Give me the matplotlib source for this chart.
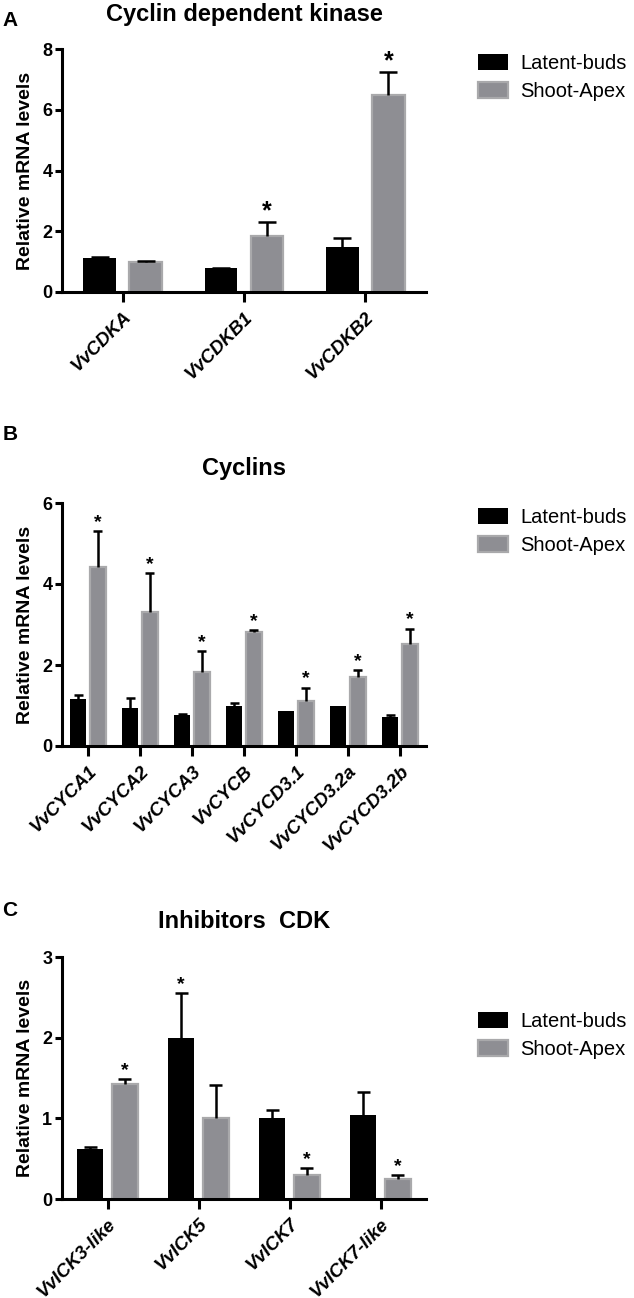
import numpy as np
import matplotlib.pyplot as plt

plt.rcParams['font.family'] = ['Liberation Sans', 'DejaVu Sans']

# panel A - cyclin dependent kinase
cdk_genes = ['VvCDKA', 'VvCDKB1', 'VvCDKB2']
cdk_latent = [1.12, 0.79, 1.48]
cdk_latent_err = [0.04, 0.01, 0.30]
cdk_apex = [0.99, 1.85, 6.48]
cdk_apex_err = [0.02, 0.45, 0.75]
cdk_star_latent = [False, False, False]
cdk_star_apex = [False, True, True]

# panel B - cyclins
cyc_genes = ['VvCYCA1', 'VvCYCA2', 'VvCYCA3', 'VvCYCB', 'VvCYCD3.1', 'VvCYCD3.2a', 'VvCYCD3.2b']
cyc_latent = [1.15, 0.94, 0.76, 1.00, 0.87, 1.00, 0.72]
cyc_latent_err = [0.10, 0.25, 0.04, 0.07, 0.0, 0.0, 0.05]
cyc_apex = [4.42, 3.31, 1.83, 2.81, 1.12, 1.71, 2.52]
cyc_apex_err = [0.88, 0.95, 0.52, 0.05, 0.32, 0.16, 0.38]
cyc_star_latent = [False] * 7
cyc_star_apex = [True] * 7

# panel C - CDK inhibitors
ick_genes = ['VvICK3-like', 'VvICK5', 'VvICK7', 'VvICK7-like']
ick_latent = [0.62, 2.00, 1.01, 1.04]
ick_latent_err = [0.03, 0.55, 0.09, 0.29]
ick_apex = [1.43, 1.00, 0.30, 0.25]
ick_apex_err = [0.06, 0.41, 0.08, 0.05]
ick_star_latent = [False, True, False, False]
ick_star_apex = [True, False, True, True]

W, H = 634, 1298
fig = plt.figure(figsize=(W / 100, H / 100), dpi=100)

black = '#000000'
grey = '#8e8e93'
grey_edge = '#a9a9ab'


def panel(top_px, bottom_px, genes, lat, lat_err, apx, apx_err, st_lat, st_apx,
          ymax, ystep, title, title_y, letter, letter_y, leg_y, bw, cap, star_size):
    ax = fig.add_axes([62 / W, 1 - bottom_px / H, (426 - 62) / W, (bottom_px - top_px) / H])
    x = np.arange(1, len(genes) + 1)
    off = 0.19
    b1 = ax.bar(x - off, lat, bw, color=black, edgecolor=black, linewidth=0, label='Latent-buds', zorder=2)
    b2 = ax.bar(x + off, apx, bw, color=grey, edgecolor=grey_edge, linewidth=1.6, label='Shoot-Apex', zorder=2)
    for xs, vals, errs, stars in [(x - off, lat, lat_err, st_lat), (x + off, apx, apx_err, st_apx)]:
        for xi, v, e, s in zip(xs, vals, errs, stars):
            if e > 0:
                # upper error bar only
                ax.vlines(xi, v, v + e, color='black', linewidth=1.8, zorder=3)
                ax.hlines(v + e, xi - cap, xi + cap, color='black', linewidth=1.8, zorder=3)
            if s:
                ax.annotate('*', (xi, v + e), xytext=(0, 3), textcoords='offset points',
                            ha='center', va='baseline', fontsize=star_size, fontweight='bold')
    ax.set_xlim(0.5, len(genes) + 0.5)
    ax.set_ylim(0, ymax)
    ax.set_yticks(np.arange(0, ymax + 0.01, ystep))
    ax.set_xticks(x)
    ax.set_xticklabels(genes, rotation=45, ha='right', rotation_mode='anchor',
                       fontstyle='italic', fontweight='bold', fontsize=13.5)
    for lab in ax.get_yticklabels():
        lab.set_fontweight('bold')
        lab.set_fontsize(13)
    ax.spines['top'].set_visible(False)
    ax.spines['right'].set_visible(False)
    ax.spines['left'].set_linewidth(2.2)
    ax.spines['bottom'].set_linewidth(2.2)
    ax.tick_params(axis='y', length=5, width=2.2, pad=2)
    ax.tick_params(axis='x', length=7, width=2.2, pad=5)
    ax.set_ylabel('Relative mRNA levels', fontsize=14, fontweight='bold')
    ax.yaxis.set_label_coords(-0.078, 0.5)
    fig.text(244 / W, 1 - title_y / H, title, ha='center', va='center', fontsize=17, fontweight='bold')
    fig.text(10 / W, 1 - letter_y / H, letter, ha='center', va='center', fontsize=15, fontweight='bold')
    fig.legend(handles=[b1, b2], loc='upper left', bbox_to_anchor=(478 / W, 1 - (leg_y - 13) / H),
               frameon=False, fontsize=14.5, handlelength=1.5, handleheight=0.85,
               handletextpad=0.6, labelspacing=0.45, borderpad=0, borderaxespad=0)
    return ax


panel(49, 292, cdk_genes, cdk_latent, cdk_latent_err, cdk_apex, cdk_apex_err,
      cdk_star_latent, cdk_star_apex, 8, 2, 'Cyclin dependent kinase', 14, 'A', 21, 67, 0.27, 0.075, 18)
panel(503, 746, cyc_genes, cyc_latent, cyc_latent_err, cyc_apex, cyc_apex_err,
      cyc_star_latent, cyc_star_apex, 6, 2, 'Cyclins', 468, 'B', 435, 521, 0.31, 0.086, 14)
panel(957, 1199, ick_genes, ick_latent, ick_latent_err, ick_apex, ick_apex_err,
      ick_star_latent, ick_star_apex, 3, 1, 'Inhibitors  CDK', 922, 'C', 910, 1025, 0.28, 0.071, 14)

fig.savefig('out.png', dpi=100)
